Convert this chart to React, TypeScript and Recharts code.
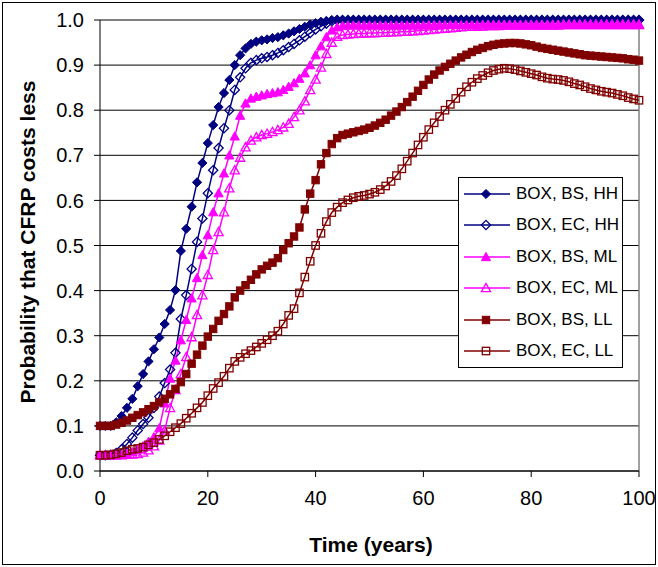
import React from 'react';
import { LineChart, Line, XAxis, YAxis, CartesianGrid, ReferenceLine, Label } from 'recharts';

// years 0..100, one point per year
const YEARS = [
  0, 1, 2, 3, 4, 5, 6, 7, 8, 9, 10, 11, 12, 13, 14, 15, 16, 17, 18, 19,
  20, 21, 22, 23, 24, 25, 26, 27, 28, 29, 30, 31, 32, 33, 34, 35, 36, 37, 38, 39,
  40, 41, 42, 43, 44, 45, 46, 47, 48, 49, 50, 51, 52, 53, 54, 55, 56, 57, 58, 59,
  60, 61, 62, 63, 64, 65, 66, 67, 68, 69, 70, 71, 72, 73, 74, 75, 76, 77, 78, 79,
  80, 81, 82, 83, 84, 85, 86, 87, 88, 89, 90, 91, 92, 93, 94, 95, 96, 97, 98, 99, 100,
];

const BS_HH = [
  0.100, 0.100, 0.100, 0.108, 0.122, 0.140, 0.160, 0.188, 0.215, 0.243,
  0.270, 0.296, 0.326, 0.357, 0.401, 0.488, 0.537, 0.586, 0.640, 0.683,
  0.727, 0.767, 0.807, 0.838, 0.867, 0.900, 0.922, 0.937, 0.947, 0.952,
  0.955, 0.957, 0.960, 0.962, 0.966, 0.970, 0.975, 0.980, 0.985, 0.990,
  0.993, 0.996, 0.998, 1.000, 1.000, 1.000, 1.000, 1.000, 1.000, 1.000,
  1.000, 1.000, 1.000, 1.000, 1.000, 1.000, 1.000, 1.000, 1.000, 1.000,
  1.000, 1.000, 1.000, 1.000, 1.000, 1.000, 1.000, 1.000, 1.000, 1.000,
  1.000, 1.000, 1.000, 1.000, 1.000, 1.000, 1.000, 1.000, 1.000, 1.000,
  1.000, 1.000, 1.000, 1.000, 1.000, 1.000, 1.000, 1.000, 1.000, 1.000,
  1.000, 1.000, 1.000, 1.000, 1.000, 1.000, 1.000, 1.000, 1.000, 1.000, 1.000,
];

const EC_HH = [
  0.035, 0.035, 0.036, 0.040, 0.048, 0.060, 0.074, 0.090, 0.104, 0.118,
  0.140, 0.165, 0.195, 0.225, 0.262, 0.337, 0.390, 0.448, 0.508, 0.560,
  0.616, 0.667, 0.716, 0.760, 0.800, 0.845, 0.873, 0.893, 0.905, 0.911,
  0.915, 0.918, 0.922, 0.927, 0.933, 0.940, 0.947, 0.955, 0.963, 0.971,
  0.979, 0.986, 0.992, 0.997, 1.000, 1.000, 1.000, 1.000, 1.000, 1.000,
  1.000, 1.000, 1.000, 1.000, 1.000, 1.000, 1.000, 1.000, 1.000, 1.000,
  1.000, 1.000, 1.000, 1.000, 1.000, 1.000, 1.000, 1.000, 1.000, 1.000,
  1.000, 1.000, 1.000, 1.000, 1.000, 1.000, 1.000, 1.000, 1.000, 1.000,
  1.000, 1.000, 1.000, 1.000, 1.000, 1.000, 1.000, 1.000, 1.000, 1.000,
  1.000, 1.000, 1.000, 1.000, 1.000, 1.000, 1.000, 1.000, 1.000, 1.000, 1.000,
];

const BS_ML = [
  0.035, 0.035, 0.035, 0.035, 0.036, 0.038, 0.042, 0.048, 0.055, 0.065,
  0.075, 0.095, 0.150, 0.205, 0.245, 0.290, 0.335, 0.383, 0.428, 0.479,
  0.523, 0.574, 0.616, 0.660, 0.700, 0.742, 0.788, 0.815, 0.826, 0.830,
  0.833, 0.836, 0.838, 0.840, 0.845, 0.852, 0.860, 0.870, 0.882, 0.900,
  0.922, 0.942, 0.962, 0.977, 0.984, 0.987, 0.988, 0.988, 0.988, 0.988,
  0.988, 0.988, 0.988, 0.988, 0.988, 0.988, 0.988, 0.988, 0.988, 0.988,
  0.988, 0.989, 0.989, 0.989, 0.989, 0.989, 0.989, 0.989, 0.989, 0.989,
  0.989, 0.990, 0.990, 0.990, 0.990, 0.990, 0.990, 0.990, 0.990, 0.990,
  0.990, 0.990, 0.990, 0.990, 0.990, 0.990, 0.991, 0.991, 0.991, 0.991,
  0.991, 0.991, 0.991, 0.991, 0.991, 0.991, 0.991, 0.991, 0.991, 0.991, 0.991,
];

const EC_ML = [
  0.035, 0.035, 0.035, 0.035, 0.035, 0.036, 0.037, 0.038, 0.041, 0.046,
  0.055, 0.068, 0.090, 0.140, 0.180, 0.215, 0.253, 0.297, 0.346, 0.390,
  0.435, 0.490, 0.530, 0.574, 0.627, 0.667, 0.695, 0.718, 0.733, 0.740,
  0.745, 0.748, 0.752, 0.756, 0.762, 0.770, 0.785, 0.800, 0.820, 0.845,
  0.868, 0.895, 0.925, 0.950, 0.963, 0.967, 0.968, 0.969, 0.970, 0.970,
  0.971, 0.971, 0.972, 0.972, 0.973, 0.973, 0.974, 0.974, 0.975, 0.976,
  0.977, 0.978, 0.979, 0.980, 0.981, 0.982, 0.983, 0.984, 0.985, 0.985,
  0.986, 0.986, 0.987, 0.987, 0.987, 0.988, 0.988, 0.988, 0.988, 0.988,
  0.988, 0.988, 0.988, 0.988, 0.988, 0.988, 0.989, 0.989, 0.989, 0.989,
  0.989, 0.989, 0.989, 0.989, 0.989, 0.989, 0.989, 0.989, 0.989, 0.989, 0.989,
];

const BS_LL = [
  0.100, 0.100, 0.100, 0.103, 0.107, 0.112, 0.118, 0.124, 0.130, 0.137,
  0.144, 0.152, 0.160, 0.170, 0.182, 0.197, 0.215, 0.238, 0.258, 0.278,
  0.298, 0.315, 0.333, 0.348, 0.365, 0.385, 0.400, 0.412, 0.424, 0.436,
  0.447, 0.455, 0.462, 0.472, 0.490, 0.505, 0.520, 0.540, 0.580, 0.615,
  0.645, 0.680, 0.705, 0.725, 0.738, 0.745, 0.748, 0.751, 0.754, 0.757,
  0.761, 0.766, 0.772, 0.779, 0.788, 0.797, 0.807, 0.818, 0.830, 0.843,
  0.856, 0.868, 0.879, 0.888, 0.896, 0.903, 0.910, 0.917, 0.923, 0.929,
  0.934, 0.938, 0.942, 0.945, 0.947, 0.948, 0.949, 0.949, 0.948, 0.946,
  0.944, 0.941, 0.938, 0.936, 0.934, 0.932, 0.930, 0.928, 0.926, 0.924,
  0.922, 0.921, 0.920, 0.919, 0.918, 0.917, 0.916, 0.915, 0.913, 0.912, 0.910,
];

const EC_LL = [
  0.035, 0.035, 0.036, 0.038, 0.041, 0.045, 0.048, 0.050, 0.053, 0.058,
  0.063, 0.070, 0.078, 0.087, 0.096, 0.105, 0.117, 0.128, 0.140, 0.152,
  0.167, 0.183, 0.196, 0.210, 0.228, 0.243, 0.252, 0.260, 0.267, 0.275,
  0.283, 0.291, 0.300, 0.310, 0.326, 0.345, 0.360, 0.395, 0.430, 0.465,
  0.500, 0.527, 0.553, 0.573, 0.585, 0.595, 0.601, 0.606, 0.609, 0.611,
  0.614, 0.618, 0.624, 0.632, 0.642, 0.655, 0.670, 0.687, 0.705, 0.723,
  0.740, 0.757, 0.772, 0.786, 0.800, 0.813, 0.826, 0.840, 0.852, 0.862,
  0.870, 0.877, 0.883, 0.888, 0.891, 0.893, 0.892, 0.890, 0.887, 0.884,
  0.881, 0.878, 0.874, 0.871, 0.869, 0.868, 0.866, 0.863, 0.859, 0.856,
  0.852, 0.848, 0.845, 0.842, 0.840, 0.838, 0.835, 0.832, 0.828, 0.825, 0.822,
];

const X_TICKS = [0, 20, 40, 60, 80, 100];
const Y_TICKS = [0, 0.1, 0.2, 0.3, 0.4, 0.5, 0.6, 0.7, 0.8, 0.9, 1.0];

const NAVY = '#000080';
const MAGENTA = '#ff00ff';
const MAROON = '#800000';

const SERIES = [
  { key: 'bsHH', name: 'BOX, BS, HH', color: NAVY, shape: 'diamond', filled: true, values: BS_HH },
  { key: 'ecHH', name: 'BOX, EC, HH', color: NAVY, shape: 'diamond', filled: false, values: EC_HH },
  { key: 'bsML', name: 'BOX, BS, ML', color: MAGENTA, shape: 'triangle', filled: true, values: BS_ML },
  { key: 'ecML', name: 'BOX, EC, ML', color: MAGENTA, shape: 'triangle', filled: false, values: EC_ML },
  { key: 'bsLL', name: 'BOX, BS, LL', color: MAROON, shape: 'square', filled: true, values: BS_LL },
  { key: 'ecLL', name: 'BOX, EC, LL', color: MAROON, shape: 'square', filled: false, values: EC_LL },
];

const data = YEARS.map((t, i) => {
  const row: any = { t };
  SERIES.forEach((s) => {
    row[s.key] = s.values[i];
  });
  return row;
});

const FONT = '"Liberation Sans", Arial, sans-serif';

function Marker({ cx, cy, shape, color, filled }: any) {
  if (cx == null || cy == null) return null;
  const fill = filled ? color : 'none';
  const sw = filled ? 1 : 1.3;
  if (shape === 'diamond') {
    const r = 4.6;
    return (
      <polygon
        points={`${cx},${cy - r} ${cx + r},${cy} ${cx},${cy + r} ${cx - r},${cy}`}
        fill={fill}
        stroke={color}
        strokeWidth={sw}
      />
    );
  }
  if (shape === 'triangle') {
    const r = 4.6;
    return (
      <polygon
        points={`${cx},${cy - r} ${cx + r},${cy + r * 0.8} ${cx - r},${cy + r * 0.8}`}
        fill={fill}
        stroke={color}
        strokeWidth={sw}
      />
    );
  }
  const h = 3.7;
  return <rect x={cx - h} y={cy - h} width={h * 2} height={h * 2} fill={fill} stroke={color} strokeWidth={sw} />;
}

// legend box drawn over the plot, like the Excel one
function LegendBox() {
  return (
    <div
      style={{
        position: 'absolute',
        left: 458,
        top: 177,
        border: '1px solid #000',
        background: '#fff',
        boxSizing: 'border-box',
        width: 165,
        height: 191,
      }}
    >
      {SERIES.map((s) => (
        <div key={s.key} style={{ display: 'flex', alignItems: 'center', height: 31.5 }}>
          <svg width={57} height={16} style={{ display: 'block' }}>
            <line x1={5} x2={51} y1={8} y2={8} stroke={s.color} strokeWidth={1.5} />
            <Marker cx={27} cy={8} shape={s.shape} color={s.color} filled={s.filled} />
          </svg>
          <span style={{ fontFamily: FONT, fontSize: 17, color: '#000', whiteSpace: 'nowrap' }}>{s.name}</span>
        </div>
      ))}
    </div>
  );
}

export default function App() {
  return (
    <div style={{ position: 'absolute', left: 0, top: 0, width: 658, height: 567, background: '#fff' }}>
      <LineChart width={658} height={567} data={data} margin={{ top: 20, right: 19, bottom: 66, left: 40 }}>
        <CartesianGrid vertical={false} stroke="#000" strokeWidth={1} />
        <ReferenceLine x={100} stroke="#808080" strokeWidth={1.5} />
        <XAxis
          dataKey="t"
          type="number"
          domain={[0, 100]}
          ticks={X_TICKS}
          height={30}
          axisLine={{ stroke: '#000' }}
          tickLine={{ stroke: '#000' }}
          tickSize={6}
          tickMargin={14}
          tick={{ fill: '#000', fontSize: 20, fontFamily: FONT }}
        >
          <Label
            content={() => (
              <text x={371} y={552} textAnchor="middle" fontFamily={FONT} fontSize={21} fontWeight="bold" fill="#000">
                Time (years)
              </text>
            )}
          />
        </XAxis>
        <YAxis
          type="number"
          domain={[0, 1]}
          ticks={Y_TICKS}
          width={60}
          axisLine={{ stroke: '#000' }}
          tickLine={{ stroke: '#000' }}
          tickSize={6}
          tickMargin={10}
          tickFormatter={(v: number) => v.toFixed(1)}
          tick={{ fill: '#000', fontSize: 20, fontFamily: FONT }}
        >
          <Label
            content={() => (
              <text
                x={35}
                y={242}
                transform="rotate(-90 35 242)"
                textAnchor="middle"
                fontFamily={FONT}
                fontSize={21}
                fontWeight="bold"
                fill="#000"
              >
                Probability that CFRP costs less
              </text>
            )}
          />
        </YAxis>
        {SERIES.map((s) => (
          <Line
            key={s.key}
            dataKey={s.key}
            name={s.name}
            stroke={s.color}
            strokeWidth={1.5}
            isAnimationActive={false}
            activeDot={false}
            dot={(p: any) => (
              <Marker
                key={`${s.key}-${p.index}`}
                cx={p.cx}
                cy={p.cy}
                shape={s.shape}
                color={s.color}
                filled={s.filled}
              />
            )}
          />
        ))}
      </LineChart>
      <LegendBox />
      <div
        style={{
          position: 'absolute',
          left: 2,
          top: 2,
          width: 654,
          height: 563,
          border: '1px solid #000',
          boxSizing: 'border-box',
          pointerEvents: 'none',
        }}
      />
    </div>
  );
}
